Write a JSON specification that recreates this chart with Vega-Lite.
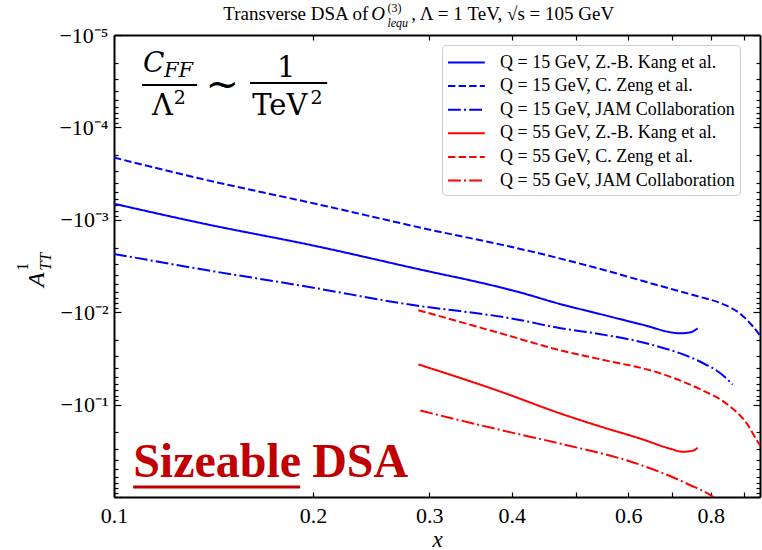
{
  "$schema": "https://vega.github.io/schema/vega-lite/v6.json",
  "width": 646,
  "height": 462,
  "autosize": {"type": "none"},
  "padding": {"left": 114, "top": 35, "right": 2, "bottom": 53},
  "background": "white",
  "config": {
    "view": {"stroke": null},
    "font": "Liberation Serif",
    "axis": {"grid": false}
  },
  "datasets": {
    "curves": [
      {"series": "Q = 15 GeV, Z.-B. Kang et al.", "x": 0.1, "A": -0.00067},
      {"series": "Q = 15 GeV, Z.-B. Kang et al.", "x": 0.135, "A": -0.00108},
      {"series": "Q = 15 GeV, Z.-B. Kang et al.", "x": 0.2017, "A": -0.00192},
      {"series": "Q = 15 GeV, Z.-B. Kang et al.", "x": 0.3022, "A": -0.00367},
      {"series": "Q = 15 GeV, Z.-B. Kang et al.", "x": 0.35, "A": -0.0046},
      {"series": "Q = 15 GeV, Z.-B. Kang et al.", "x": 0.4052, "A": -0.00592},
      {"series": "Q = 15 GeV, Z.-B. Kang et al.", "x": 0.4741, "A": -0.00818},
      {"series": "Q = 15 GeV, Z.-B. Kang et al.", "x": 0.545, "A": -0.0105},
      {"series": "Q = 15 GeV, Z.-B. Kang et al.", "x": 0.6266, "A": -0.0135},
      {"series": "Q = 15 GeV, Z.-B. Kang et al.", "x": 0.7205, "A": -0.0169},
      {"series": "Q = 15 GeV, Z.-B. Kang et al.", "x": 0.7461, "A": -0.0165},
      {"series": "Q = 15 GeV, Z.-B. Kang et al.", "x": 0.7645, "A": -0.0149},

      {"series": "Q = 15 GeV, C. Zeng et al.", "x": 0.1, "A": -0.000212},
      {"series": "Q = 15 GeV, C. Zeng et al.", "x": 0.135, "A": -0.000358},
      {"series": "Q = 15 GeV, C. Zeng et al.", "x": 0.2017, "A": -0.00067},
      {"series": "Q = 15 GeV, C. Zeng et al.", "x": 0.3022, "A": -0.00129},
      {"series": "Q = 15 GeV, C. Zeng et al.", "x": 0.4052, "A": -0.00201},
      {"series": "Q = 15 GeV, C. Zeng et al.", "x": 0.545, "A": -0.00341},
      {"series": "Q = 15 GeV, C. Zeng et al.", "x": 0.6719, "A": -0.00521},
      {"series": "Q = 15 GeV, C. Zeng et al.", "x": 0.7726, "A": -0.00687},
      {"series": "Q = 15 GeV, C. Zeng et al.", "x": 0.8283, "A": -0.00798},
      {"series": "Q = 15 GeV, C. Zeng et al.", "x": 0.8883, "A": -0.0105},
      {"series": "Q = 15 GeV, C. Zeng et al.", "x": 0.9263, "A": -0.0142},
      {"series": "Q = 15 GeV, C. Zeng et al.", "x": 0.959, "A": -0.0196},

      {"series": "Q = 15 GeV, JAM Collaboration", "x": 0.1, "A": -0.00234},
      {"series": "Q = 15 GeV, JAM Collaboration", "x": 0.135, "A": -0.00341},
      {"series": "Q = 15 GeV, JAM Collaboration", "x": 0.2017, "A": -0.00548},
      {"series": "Q = 15 GeV, JAM Collaboration", "x": 0.2713, "A": -0.00798},
      {"series": "Q = 15 GeV, JAM Collaboration", "x": 0.4052, "A": -0.0119},
      {"series": "Q = 15 GeV, JAM Collaboration", "x": 0.4741, "A": -0.0149},
      {"series": "Q = 15 GeV, JAM Collaboration", "x": 0.545, "A": -0.0173},
      {"series": "Q = 15 GeV, JAM Collaboration", "x": 0.6488, "A": -0.0223},
      {"series": "Q = 15 GeV, JAM Collaboration", "x": 0.7726, "A": -0.0346},
      {"series": "Q = 15 GeV, JAM Collaboration", "x": 0.8283, "A": -0.046},
      {"series": "Q = 15 GeV, JAM Collaboration", "x": 0.8639, "A": -0.0607},

      {"series": "Q = 55 GeV, Z.-B. Kang et al.", "x": 0.2888, "A": -0.0367},
      {"series": "Q = 55 GeV, Z.-B. Kang et al.", "x": 0.3845, "A": -0.0723},
      {"series": "Q = 55 GeV, Z.-B. Kang et al.", "x": 0.4741, "A": -0.125},
      {"series": "Q = 55 GeV, Z.-B. Kang et al.", "x": 0.545, "A": -0.173},
      {"series": "Q = 55 GeV, Z.-B. Kang et al.", "x": 0.6266, "A": -0.234},
      {"series": "Q = 55 GeV, Z.-B. Kang et al.", "x": 0.6958, "A": -0.301},
      {"series": "Q = 55 GeV, Z.-B. Kang et al.", "x": 0.7255, "A": -0.324},
      {"series": "Q = 55 GeV, Z.-B. Kang et al.", "x": 0.7514, "A": -0.316},
      {"series": "Q = 55 GeV, Z.-B. Kang et al.", "x": 0.7645, "A": -0.293},

      {"series": "Q = 55 GeV, C. Zeng et al.", "x": 0.2888, "A": -0.00951},
      {"series": "Q = 55 GeV, C. Zeng et al.", "x": 0.3845, "A": -0.0169},
      {"series": "Q = 55 GeV, C. Zeng et al.", "x": 0.4741, "A": -0.0259},
      {"series": "Q = 55 GeV, C. Zeng et al.", "x": 0.545, "A": -0.0324},
      {"series": "Q = 55 GeV, C. Zeng et al.", "x": 0.6719, "A": -0.046},
      {"series": "Q = 55 GeV, C. Zeng et al.", "x": 0.7726, "A": -0.0687},
      {"series": "Q = 55 GeV, C. Zeng et al.", "x": 0.8488, "A": -0.1},
      {"series": "Q = 55 GeV, C. Zeng et al.", "x": 0.9102, "A": -0.165},
      {"series": "Q = 55 GeV, C. Zeng et al.", "x": 0.9424, "A": -0.252},
      {"series": "Q = 55 GeV, C. Zeng et al.", "x": 0.959, "A": -0.301},

      {"series": "Q = 55 GeV, JAM Collaboration", "x": 0.2908, "A": -0.116},
      {"series": "Q = 55 GeV, JAM Collaboration", "x": 0.394, "A": -0.196},
      {"series": "Q = 55 GeV, JAM Collaboration", "x": 0.4741, "A": -0.265},
      {"series": "Q = 55 GeV, JAM Collaboration", "x": 0.6266, "A": -0.449},
      {"series": "Q = 55 GeV, JAM Collaboration", "x": 0.7384, "A": -0.723},
      {"series": "Q = 55 GeV, JAM Collaboration", "x": 0.814, "A": -1.05},
      {"series": "Q = 55 GeV, JAM Collaboration", "x": 0.84, "A": -1.3}
    ]
  },
  "layer": [
    {
      "data": {"name": "curves"},
      "mark": {"type": "line", "strokeWidth": 2, "clip": true, "interpolate": "monotone"},
      "encoding": {
        "x": {
          "field": "x", "type": "quantitative",
          "scale": {"type": "log", "domain": [0.1, 0.95], "nice": false},
          "axis": {
            "orient": "bottom",
            "values": [0.1, 0.2, 0.3, 0.4, 0.5, 0.6, 0.7, 0.8, 0.9],
            "labelExpr": "indexof([0.1, 0.2, 0.3, 0.4, 0.6, 0.8], round(datum.value * 10) / 10) >= 0 ? format(datum.value, '.1f') : ''",
            "tickSize": -5, "tickWidth": 1.2, "tickColor": "black",
            "domainColor": "black", "domainWidth": 2,
            "labelFont": "Liberation Serif", "labelFontSize": 22, "labelColor": "black",
            "labelPadding": 13, "labelOverlap": false, "labelFlush": false, "labelBound": false,
            "title": "x", "titleFont": "Liberation Serif", "titleFontStyle": "italic",
            "titleFontWeight": "normal", "titleFontSize": 23, "titleColor": "black",
            "titleBaseline": "alphabetic", "titleY": 49
          }
        },
        "y": {
          "field": "A", "type": "quantitative",
          "scale": {"type": "log", "domain": [-1, -0.00001], "nice": false},
          "axis": {
            "orient": "left",
            "values": [-0.00001, -0.00002, -0.00003, -0.00004, -0.00005, -0.00006, -0.00007, -0.00008, -0.00009,
                       -0.0001, -0.0002, -0.0003, -0.0004, -0.0005, -0.0006, -0.0007, -0.0008, -0.0009,
                       -0.001, -0.002, -0.003, -0.004, -0.005, -0.006, -0.007, -0.008, -0.009,
                       -0.01, -0.02, -0.03, -0.04, -0.05, -0.06, -0.07, -0.08, -0.09,
                       -0.1, -0.2, -0.3, -0.4, -0.5, -0.6, -0.7, -0.8, -0.9, -1],
            "labelExpr": "abs(log(-datum.value) / LN10 - round(log(-datum.value) / LN10)) < 0.001 && datum.value > -0.5 ? '−10' + ['⁻⁵', '⁻⁴', '⁻³', '⁻²', '⁻¹'][round(log(-datum.value) / LN10) + 5] : ''",
            "tickSize": {"condition": {"test": "abs(log(-datum.value) / LN10 - round(log(-datum.value) / LN10)) < 0.001", "value": -7}, "value": -4},
            "tickWidth": 1.2, "tickColor": "black",
            "domainColor": "black", "domainWidth": 2,
            "labelFont": "Liberation Serif", "labelFontSize": 22, "labelColor": "black",
            "labelPadding": 13, "labelOverlap": false, "labelFlush": false, "labelBound": false,
            "title": null
          }
        },
        "color": {
          "field": "series", "type": "nominal",
          "scale": {
            "domain": ["Q = 15 GeV, Z.-B. Kang et al.", "Q = 15 GeV, C. Zeng et al.", "Q = 15 GeV, JAM Collaboration",
                       "Q = 55 GeV, Z.-B. Kang et al.", "Q = 55 GeV, C. Zeng et al.", "Q = 55 GeV, JAM Collaboration"],
            "range": ["#0000ff", "#0000ff", "#0000ff", "#ff0000", "#ff0000", "#ff0000"]
          },
          "legend": {
            "title": null, "orient": "none", "legendX": 328, "legendY": 10,
            "symbolType": "M-1,0H2.2", "symbolSize": 529, "symbolStrokeWidth": 2, "symbolFillColor": "transparent",
            "labelFont": "Liberation Serif", "labelFontSize": 18, "labelColor": "black",
            "labelLimit": 400, "labelOffset": 28, "rowPadding": 1.6, "padding": 5,
            "strokeColor": "#cccccc", "fillColor": "white", "cornerRadius": 4
          }
        },
        "strokeDash": {
          "field": "series", "type": "nominal",
          "scale": {
            "domain": ["Q = 15 GeV, Z.-B. Kang et al.", "Q = 15 GeV, C. Zeng et al.", "Q = 15 GeV, JAM Collaboration",
                       "Q = 55 GeV, Z.-B. Kang et al.", "Q = 55 GeV, C. Zeng et al.", "Q = 55 GeV, JAM Collaboration"],
            "range": [[1, 0], [7.4, 3.2], [12.8, 3.2, 2, 3.2], [1, 0], [7.4, 3.2], [12.8, 3.2, 2, 3.2]]
          },
          "legend": {
            "title": null, "orient": "none", "legendX": 328, "legendY": 10,
            "symbolType": "M-1,0H2.2", "symbolSize": 529, "symbolStrokeWidth": 2, "symbolFillColor": "transparent",
            "labelFont": "Liberation Serif", "labelFontSize": 18, "labelColor": "black",
            "labelLimit": 400, "labelOffset": 28, "rowPadding": 1.6, "padding": 5,
            "strokeColor": "#cccccc", "fillColor": "white", "cornerRadius": 4
          }
        }
      }
    },
    {
      "data": {"values": [{"x": 0.1069, "x2": 0.1913, "A": -0.78}]},
      "mark": {"type": "rule", "color": "#c00000", "strokeWidth": 3},
      "encoding": {
        "x": {
          "field": "x", "type": "quantitative",
          "scale": {"type": "log", "domain": [0.1, 0.95], "nice": false},
          "axis": {
            "orient": "top", "values": [0.1, 0.2, 0.3, 0.4, 0.5, 0.6, 0.7, 0.8, 0.9],
            "labels": false, "tickSize": -5, "tickWidth": 1.2, "tickColor": "black",
            "domainColor": "black", "domainWidth": 2, "title": null
          }
        },
        "x2": {"field": "x2"},
        "y": {
          "field": "A", "type": "quantitative",
          "scale": {"type": "log", "domain": [-1, -0.00001], "nice": false},
          "axis": {
            "orient": "right",
            "values": [-0.00001, -0.00002, -0.00003, -0.00004, -0.00005, -0.00006, -0.00007, -0.00008, -0.00009,
                       -0.0001, -0.0002, -0.0003, -0.0004, -0.0005, -0.0006, -0.0007, -0.0008, -0.0009,
                       -0.001, -0.002, -0.003, -0.004, -0.005, -0.006, -0.007, -0.008, -0.009,
                       -0.01, -0.02, -0.03, -0.04, -0.05, -0.06, -0.07, -0.08, -0.09,
                       -0.1, -0.2, -0.3, -0.4, -0.5, -0.6, -0.7, -0.8, -0.9, -1],
            "labels": false,
            "tickSize": {"condition": {"test": "abs(log(-datum.value) / LN10 - round(log(-datum.value) / LN10)) < 0.001", "value": -7}, "value": -4},
            "tickWidth": 1.2, "tickColor": "black",
            "domainColor": "black", "domainWidth": 2, "title": null
          }
        }
      }
    },
    {
      "data": {"values": [{"t": "Sizeable", "x": 0.1069, "A": -0.607}, {"t": "DSA", "x": 0.1995, "A": -0.607}]},
      "mark": {"type": "text", "font": "Liberation Serif", "fontWeight": "bold", "fontSize": 48, "color": "#c00000", "align": "left", "baseline": "alphabetic"},
      "encoding": {
        "x": {"field": "x", "type": "quantitative", "scale": {"type": "log", "domain": [0.1, 0.95], "nice": false}, "axis": null},
        "y": {"field": "A", "type": "quantitative", "scale": {"type": "log", "domain": [-1, -0.00001], "nice": false}, "axis": null},
        "text": {"field": "t"}
      }
    },
    {
      "data": {"values": [{"x": 0.1103, "x2": 0.1336, "A": -0.0000347}, {"x": 0.1607, "x2": 0.2102, "A": -0.000033}]},
      "mark": {"type": "rule", "color": "black", "strokeWidth": 2},
      "encoding": {
        "x": {"field": "x", "type": "quantitative", "scale": {"type": "log", "domain": [0.1, 0.95], "nice": false}, "axis": null},
        "x2": {"field": "x2"},
        "y": {"field": "A", "type": "quantitative", "scale": {"type": "log", "domain": [-1, -0.00001], "nice": false}, "axis": null}
      }
    },
    {
      "data": {"values": [{"t": "C", "x": 0.1106, "A": -0.0000251}]},
      "mark": {"type": "text", "font": "DejaVu Serif", "fontStyle": "italic", "fontSize": 28, "color": "black", "align": "left", "baseline": "alphabetic"},
      "encoding": {
        "x": {"field": "x", "type": "quantitative", "scale": {"type": "log", "domain": [0.1, 0.95], "nice": false}, "axis": null},
        "y": {"field": "A", "type": "quantitative", "scale": {"type": "log", "domain": [-1, -0.00001], "nice": false}, "axis": null},
        "text": {"field": "t"}
      }
    },
    {
      "data": {"values": [{"t": "FF", "x": 0.119, "A": -0.0000285}]},
      "mark": {"type": "text", "font": "DejaVu Serif", "fontStyle": "italic", "fontSize": 21, "color": "black", "align": "left", "baseline": "alphabetic"},
      "encoding": {
        "x": {"field": "x", "type": "quantitative", "scale": {"type": "log", "domain": [0.1, 0.95], "nice": false}, "axis": null},
        "y": {"field": "A", "type": "quantitative", "scale": {"type": "log", "domain": [-1, -0.00001], "nice": false}, "axis": null},
        "text": {"field": "t"}
      }
    },
    {
      "data": {"values": [{"t": "Λ", "x": 0.1142, "A": -0.0000734}, {"t": "TeV", "x": 0.1619, "A": -0.0000734}]},
      "mark": {"type": "text", "font": "DejaVu Serif", "fontSize": 29, "color": "black", "align": "left", "baseline": "alphabetic"},
      "encoding": {
        "x": {"field": "x", "type": "quantitative", "scale": {"type": "log", "domain": [0.1, 0.95], "nice": false}, "axis": null},
        "y": {"field": "A", "type": "quantitative", "scale": {"type": "log", "domain": [-1, -0.00001], "nice": false}, "axis": null},
        "text": {"field": "t"}
      }
    },
    {
      "data": {"values": [{"t": "2", "x": 0.1232, "A": -0.0000558}, {"t": "2", "x": 0.1983, "A": -0.0000558}]},
      "mark": {"type": "text", "font": "DejaVu Serif", "fontSize": 19, "color": "black", "align": "left", "baseline": "alphabetic"},
      "encoding": {
        "x": {"field": "x", "type": "quantitative", "scale": {"type": "log", "domain": [0.1, 0.95], "nice": false}, "axis": null},
        "y": {"field": "A", "type": "quantitative", "scale": {"type": "log", "domain": [-1, -0.00001], "nice": false}, "axis": null},
        "text": {"field": "t"}
      }
    },
    {
      "data": {"values": [{"t": "1", "x": 0.1823, "A": -0.0000285}]},
      "mark": {"type": "text", "font": "DejaVu Serif", "fontSize": 29, "color": "black", "align": "center", "baseline": "alphabetic"},
      "encoding": {
        "x": {"field": "x", "type": "quantitative", "scale": {"type": "log", "domain": [0.1, 0.95], "nice": false}, "axis": null},
        "y": {"field": "A", "type": "quantitative", "scale": {"type": "log", "domain": [-1, -0.00001], "nice": false}, "axis": null},
        "text": {"field": "t"}
      }
    },
    {
      "data": {"values": [{"t": "~", "x": 0.1458, "A": -0.0000347}]},
      "mark": {"type": "text", "font": "DejaVu Serif", "fontSize": 40, "color": "black", "align": "center", "baseline": "middle"},
      "encoding": {
        "x": {"field": "x", "type": "quantitative", "scale": {"type": "log", "domain": [0.1, 0.95], "nice": false}, "axis": null},
        "y": {"field": "A", "type": "quantitative", "scale": {"type": "log", "domain": [-1, -0.00001], "nice": false}, "axis": null},
        "text": {"field": "t"}
      }
    },
    {
      "data": {"values": [{"t": "Transverse DSA of", "x": 0.2426, "A": -0.00000688}]},
      "mark": {"type": "text", "font": "Liberation Serif", "fontSize": 19, "color": "black", "align": "right", "baseline": "alphabetic"},
      "encoding": {
        "x": {"field": "x", "type": "quantitative", "scale": {"type": "log", "domain": [0.1, 0.95], "nice": false}, "axis": null},
        "y": {"field": "A", "type": "quantitative", "scale": {"type": "log", "domain": [-1, -0.00001], "nice": false}, "axis": null},
        "text": {"field": "t"}
      }
    },
    {
      "data": {"values": [{"t": "O", "x": 0.2452, "A": -0.00000688}]},
      "mark": {"type": "text", "font": "Liberation Serif", "fontStyle": "italic", "fontSize": 19, "color": "black", "align": "left", "baseline": "alphabetic"},
      "encoding": {
        "x": {"field": "x", "type": "quantitative", "scale": {"type": "log", "domain": [0.1, 0.95], "nice": false}, "axis": null},
        "y": {"field": "A", "type": "quantitative", "scale": {"type": "log", "domain": [-1, -0.00001], "nice": false}, "axis": null},
        "text": {"field": "t"}
      }
    },
    {
      "data": {"values": [{"t": "(3)", "x": 0.2593, "A": -0.00000564}]},
      "mark": {"type": "text", "font": "Liberation Serif", "fontSize": 12, "color": "black", "align": "left", "baseline": "alphabetic"},
      "encoding": {
        "x": {"field": "x", "type": "quantitative", "scale": {"type": "log", "domain": [0.1, 0.95], "nice": false}, "axis": null},
        "y": {"field": "A", "type": "quantitative", "scale": {"type": "log", "domain": [-1, -0.00001], "nice": false}, "axis": null},
        "text": {"field": "t"}
      }
    },
    {
      "data": {"values": [{"t": "lequ", "x": 0.2593, "A": -0.00000819}]},
      "mark": {"type": "text", "font": "Liberation Serif", "fontStyle": "italic", "fontSize": 12, "color": "black", "align": "left", "baseline": "alphabetic"},
      "encoding": {
        "x": {"field": "x", "type": "quantitative", "scale": {"type": "log", "domain": [0.1, 0.95], "nice": false}, "axis": null},
        "y": {"field": "A", "type": "quantitative", "scale": {"type": "log", "domain": [-1, -0.00001], "nice": false}, "axis": null},
        "text": {"field": "t"}
      }
    },
    {
      "data": {"values": [{"t": ", Λ = 1 TeV, √s = 105 GeV", "x": 0.2818, "A": -0.00000688}]},
      "mark": {"type": "text", "font": "Liberation Serif", "fontSize": 19, "color": "black", "align": "left", "baseline": "alphabetic"},
      "encoding": {
        "x": {"field": "x", "type": "quantitative", "scale": {"type": "log", "domain": [0.1, 0.95], "nice": false}, "axis": null},
        "y": {"field": "A", "type": "quantitative", "scale": {"type": "log", "domain": [-1, -0.00001], "nice": false}, "axis": null},
        "text": {"field": "t"}
      }
    },
    {
      "data": {"values": [{"t": "A", "x": 0.0783, "A": -0.00533}]},
      "mark": {"type": "text", "font": "Liberation Serif", "fontStyle": "italic", "fontSize": 24, "color": "black", "align": "left", "baseline": "alphabetic", "angle": 270},
      "encoding": {
        "x": {"field": "x", "type": "quantitative", "scale": {"type": "log", "domain": [0.1, 0.95], "nice": false}, "axis": null},
        "y": {"field": "A", "type": "quantitative", "scale": {"type": "log", "domain": [-1, -0.00001], "nice": false}, "axis": null},
        "text": {"field": "t"}
      }
    },
    {
      "data": {"values": [{"t": "1", "x": 0.0742, "A": -0.00355}]},
      "mark": {"type": "text", "font": "Liberation Serif", "fontSize": 16, "color": "black", "align": "left", "baseline": "alphabetic", "angle": 270},
      "encoding": {
        "x": {"field": "x", "type": "quantitative", "scale": {"type": "log", "domain": [0.1, 0.95], "nice": false}, "axis": null},
        "y": {"field": "A", "type": "quantitative", "scale": {"type": "log", "domain": [-1, -0.00001], "nice": false}, "axis": null},
        "text": {"field": "t"}
      }
    },
    {
      "data": {"values": [{"t": "TT", "x": 0.0802, "A": -0.00355}]},
      "mark": {"type": "text", "font": "Liberation Serif", "fontStyle": "italic", "fontSize": 16, "color": "black", "align": "left", "baseline": "alphabetic", "angle": 270},
      "encoding": {
        "x": {"field": "x", "type": "quantitative", "scale": {"type": "log", "domain": [0.1, 0.95], "nice": false}, "axis": null},
        "y": {"field": "A", "type": "quantitative", "scale": {"type": "log", "domain": [-1, -0.00001], "nice": false}, "axis": null},
        "text": {"field": "t"}
      }
    }
  ],
  "resolve": {"axis": {"x": "independent", "y": "independent"}}
}
